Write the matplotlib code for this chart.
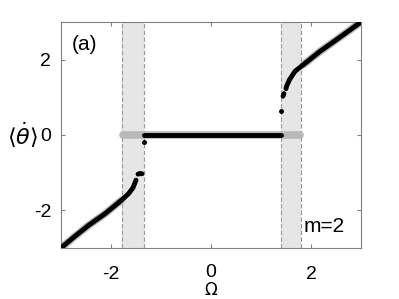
import matplotlib
matplotlib.use("Agg")
import matplotlib.pyplot as plt

plt.rcParams["font.family"] = ["Liberation Sans", "DejaVu Sans"]
plt.rcParams["axes.unicode_minus"] = False

# bands where the two branches coexist
band_left = (-1.78, -1.34)
band_right = (1.39, 1.79)

# black: simulated branch
left_om = [-3.0, -2.75, -2.45, -2.12, -2.0, -1.79, -1.65, -1.56, -1.50]
left_v = [-3.0, -2.72, -2.40, -2.09, -1.96, -1.73, -1.56, -1.40, -1.20]
left_dash_om = [-1.46, -1.42, -1.38]
left_dash_v = [-1.04, -1.02, -1.03]
left_dot_om = [-1.34]
left_dot_v = [-0.19]
zero_om = [-1.34, 1.40]
zero_v = [0.0, 0.0]
right_dot_om = [1.40]
right_dot_v = [0.64]
right_dash_om = [1.44, 1.46]
right_dash_v = [1.03, 1.10]
right_om = [1.50, 1.51, 1.57, 1.68, 1.85, 2.18, 2.51, 3.0]
right_v = [1.23, 1.29, 1.47, 1.69, 1.87, 2.22, 2.53, 3.0]

# gray: other branch
g_left_om = [-3.0, -2.75, -2.45, -2.12, -2.0, -1.79]
g_left_v = [-3.0, -2.72, -2.40, -2.09, -1.96, -1.73]
g_zero_om = [-1.76, 1.78]
g_zero_v = [0.0, 0.0]
g_right_om = [1.85, 2.18, 2.51, 3.0]
g_right_v = [1.87, 2.22, 2.53, 3.0]

xticks = [-2, 0, 2]
xticklabels = ["-2", "0", "2"]
yticks = [-2, 0, 2]

fig = plt.figure(figsize=(3.99, 2.99), dpi=100)
ax = fig.add_axes([0.1529, 0.1706, 0.7519, 0.7559])

for a, b in (band_left, band_right):
    ax.axvspan(a, b, color="#e6e6e6", lw=0, zorder=0)
    ax.axvline(a, color="0.6", ls="--", lw=0.8, dashes=(4, 2), zorder=1)
    ax.axvline(b, color="0.6", ls="--", lw=0.8, dashes=(4, 2), zorder=1)

gray = dict(color="0.72", lw=5.5, solid_capstyle="round", zorder=2)
ax.plot(g_left_om, g_left_v, **gray)
ax.plot(g_zero_om, g_zero_v, **gray)
ax.plot(g_right_om, g_right_v, **gray)

black = dict(color="black", lw=3.5, solid_capstyle="round", zorder=3)
ax.plot(left_om, left_v, **black)
ax.plot(left_dash_om, left_dash_v, **black)
ax.plot(zero_om, zero_v, **black)
ax.plot(right_dash_om, right_dash_v, **black)
ax.plot(right_om, right_v, **black)
ax.plot(left_dot_om + right_dot_om, left_dot_v + right_dot_v, "o",
        color="black", ms=2.5, zorder=3)

ax.set_xlim(-3, 3)
ax.set_ylim(-3, 3)
ax.set_xticks(xticks)
# the "0" label sits a little lower in the original, drawn separately
ax.set_xticklabels([t if t != "0" else "" for t in xticklabels])
ax.set_yticks(yticks)
ax.tick_params(direction="in", length=3, color="0.5", labelsize=14,
               top=True, right=True)
ax.tick_params(axis="x", pad=13)
ax.tick_params(axis="y", pad=7)
for s in ax.spines.values():
    s.set_color("0.5")
    s.set_linewidth(0.8)

ax.text(0, -0.11, "0", transform=ax.get_xaxis_transform(), fontsize=14,
        ha="center", va="center")

ax.set_xlabel(r"$\Omega$", fontsize=12, va="top")
ax.xaxis.set_label_coords(0.5, -0.148)
ax.set_ylabel(r"$\langle\dot{\theta}\rangle$", fontsize=16, rotation=0,
              ha="center", va="center")
ax.yaxis.set_label_coords(-0.13, 0.5)
ax.text(0.035, 0.9, "(a)", transform=ax.transAxes, fontsize=15, va="center")
ax.text(0.81, 0.095, "m=2", transform=ax.transAxes, fontsize=15, va="center")

fig.savefig("out.png", dpi=100)
